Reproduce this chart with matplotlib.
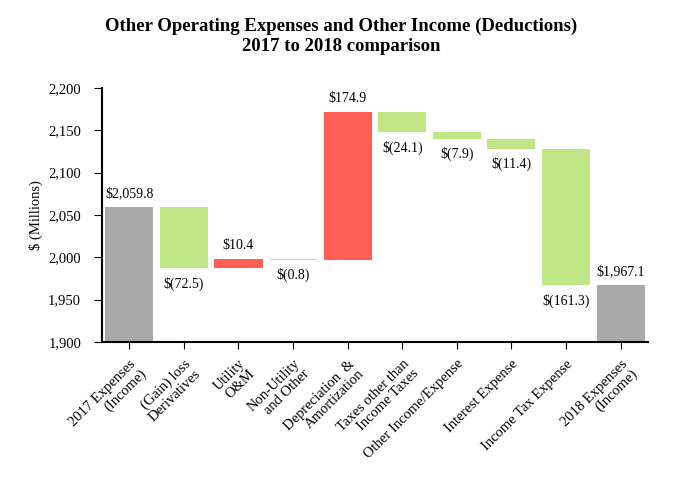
import matplotlib
matplotlib.use("Agg")
from matplotlib import pyplot as plt

categories = ["2017 Expenses\n(Income)", "(Gain) loss\nDerivatives", "Utility\nO&M",
              "Non-Utility\nand Other", "Depreciation  &\nAmortization",
              "Taxes other than\nIncome Taxes", "Other Income/Expense",
              "Interest Expense", "Income Tax Expense", "2018 Expenses\n(Income)"]
start_total = 2059.8
changes = [-72.5, 10.4, -0.8, 174.9, -24.1, -7.9, -11.4, -161.3]
end_total = 1967.1
value_labels = ["$2,059.8", "$(72.5)", "$10.4", "$(0.8)", "$174.9", "$(24.1)",
                "$(7.9)", "$(11.4)", "$(161.3)", "$1,967.1"]

plt.rcParams['font.family'] = ['Liberation Serif', 'DejaVu Serif']

GRAY = '#A9A9A9'
GREEN = '#BFE585'
RED = '#FF5F55'
YMIN = 1900

fig = plt.figure(figsize=(6.82, 4.8), dpi=100)
ax = fig.add_axes([0.1496, 0.2875, 0.8004, 0.5292])

bottoms, heights, colors = [], [], []
bottoms.append(YMIN); heights.append(start_total - YMIN); colors.append(GRAY)
level = start_total
for c in changes:
    new = level + c
    bottoms.append(min(level, new))
    heights.append(abs(c))
    colors.append(RED if c > 0 else GREEN)
    level = new
bottoms.append(YMIN); heights.append(end_total - YMIN); colors.append(GRAY)

x = list(range(len(categories)))
ax.bar(x, heights, bottom=bottoms, width=0.88, color=colors)

for i in x:
    top = bottoms[i] + heights[i]
    if colors[i] == GREEN:
        ax.annotate(value_labels[i], (i, bottoms[i]), xytext=(0, -6),
                    textcoords='offset points', ha='center', va='top', fontsize=10)
    else:
        ax.annotate(value_labels[i], (i, top), xytext=(0, 5),
                    textcoords='offset points', ha='center', va='bottom', fontsize=10)

ax.set_xlim(-0.5, 9.5)
ax.set_ylim(1900, 2200)
ax.set_yticks(range(1900, 2201, 50))
ax.set_yticklabels([f"{v:,}" for v in range(1900, 2201, 50)], fontsize=10.5)
ax.set_xticks(x)
ax.set_xticklabels(categories, rotation=45, ha='right', rotation_mode='anchor',
                   fontsize=10.5, linespacing=1.1)
ax.tick_params(axis='x', length=5, pad=6)
ax.tick_params(axis='y', length=6, pad=9)
ax.spines['top'].set_visible(False)
ax.spines['right'].set_visible(False)
ax.spines['left'].set_linewidth(1.5)
ax.spines['bottom'].set_linewidth(1.5)
ax.set_ylabel("$ (Millions)", fontsize=10.5, labelpad=4)

fig.suptitle("Other Operating Expenses and Other Income (Deductions)\n2017 to 2018 comparison",
             fontsize=13.5, fontweight='bold', y=0.963, linespacing=1.2)

fig.savefig("out.png", dpi=100)
